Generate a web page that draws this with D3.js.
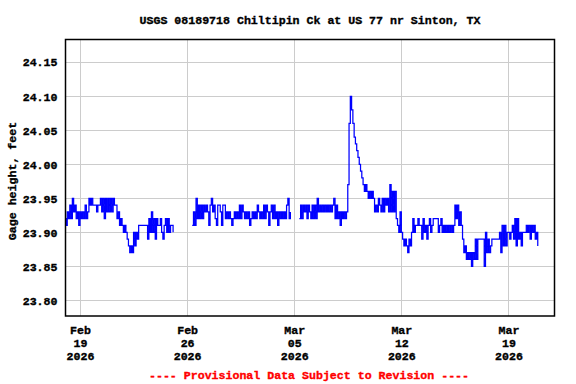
<!DOCTYPE html>
<html>
<head>
<meta charset="utf-8">
<script src="https://cdn.jsdelivr.net/npm/d3@7"></script>
<style>
  html, body { margin: 0; padding: 0; background: #fff; }
  svg { display: block; }
  text { font-family: "Liberation Mono", "DejaVu Sans Mono", monospace; font-weight: bold; font-size: 11.6px; }
</style>
</head>
<body>
<svg id="chart" width="576" height="384"></svg>
<script>
// ---- data ----
const chartTitle = "USGS 08189718 Chiltipin Ck at US 77 nr Sinton, TX";
const yAxisLabel = "Gage height, feet";
const footerText = "---- Provisional Data Subject to Revision ----";
const yTickValues = [23.80, 23.85, 23.90, 23.95, 24.00, 24.05, 24.10, 24.15];
const xTickDates = ["2026-02-19", "2026-02-26", "2026-03-05", "2026-03-12", "2026-03-19"];
const seriesStart = "2026-02-18T00:00:00"; // first reading
const stepHours = 2;                         // readings every 2 hours
// gage height, feet (null = no data)
const gageHeightFt = [
  // Feb 18
  23.92, 23.91, 23.93, 23.92, 23.94, 23.92, 23.95, 23.93, 23.94, 23.92, 23.93, 23.91,
  // Feb 19
  23.93, 23.92, 23.93, 23.92, 23.94, 23.92, 23.93, 23.95, 23.94, 23.95, 23.94, 23.94,
  // Feb 20
  23.94, 23.93, 23.94, 23.94, 23.95, 23.93, 23.95, 23.92, 23.95, 23.93, 23.95, 23.93,
  // Feb 21
  23.95, 23.93, 23.95, 23.94, 23.94, 23.92, 23.93, 23.91, 23.92, 23.91, 23.90, 23.91,
  // Feb 22
  23.90, 23.89, 23.88, 23.87, 23.88, 23.87, 23.90, 23.88, 23.90, 23.89, 23.91, 23.91,
  // Feb 23
  23.91, 23.91, 23.91, 23.91, 23.91, 23.89, 23.92, 23.90, 23.93, 23.90, 23.92, 23.89,
  // Feb 24
  23.92, 23.91, 23.91, 23.92, 23.90, 23.89, 23.91, 23.92, 23.90, 23.92, 23.90, 23.91,
  // Feb 25
  23.91, 23.90, null, null, null, null, null, null, null, null, null, null,
  // Feb 26
  null, null, null, null, 23.91, 23.93, 23.91, 23.95, 23.92, 23.94, 23.92, 23.94,
  // Feb 27
  23.92, 23.94, 23.93, 23.94, 23.93, 23.91, 23.94, 23.95, 23.93, 23.94, 23.92, 23.91,
  // Feb 28
  23.94, 23.94, 23.93, 23.91, 23.94, 23.94, 23.92, 23.93, 23.92, 23.93, 23.92, 23.91,
  // Mar 1
  23.92, 23.93, 23.92, 23.93, 23.92, 23.94, 23.92, 23.94, 23.93, 23.92, 23.93, 23.92,
  // Mar 2
  23.93, 23.91, 23.92, 23.93, 23.92, 23.93, 23.92, 23.94, 23.93, 23.92, 23.93, 23.92,
  // Mar 3
  23.94, 23.92, 23.94, 23.93, 23.91, 23.93, 23.94, 23.92, 23.94, 23.92, 23.93, 23.91,
  // Mar 4
  23.93, 23.92, 23.93, 23.92, 23.93, 23.92, 23.94, 23.95, 23.92, 23.93, null, null,
  // Mar 5
  null, null, null, null, 23.92, 23.94, 23.92, 23.94, 23.93, 23.94, 23.92, 23.94,
  // Mar 6
  23.93, 23.92, 23.94, 23.92, 23.94, 23.92, 23.95, 23.93, 23.94, 23.93, 23.94, 23.93,
  // Mar 7
  23.94, 23.93, 23.94, 23.93, 23.94, 23.93, 23.94, 23.95, 23.92, 23.94, 23.92, 23.93,
  // Mar 8
  23.91, 23.93, 23.92, 23.93, 23.92, 23.93, 23.97, 24.06, 24.10, 24.08, 24.06, 24.04,
  // Mar 9
  24.03, 24.02, 24.01, 24.00, 23.99, 23.98, 23.97, 23.96, 23.97, 23.96, 23.95, 23.96,
  // Mar 10
  23.95, 23.96, 23.95, 23.93, 23.94, 23.93, 23.95, 23.94, 23.93, 23.95, 23.93, 23.95,
  // Mar 11
  23.94, 23.95, 23.93, 23.97, 23.93, 23.96, 23.93, 23.96, 23.92, 23.91, 23.90, 23.93,
  // Mar 12
  23.90, 23.89, 23.88, 23.89, 23.88, 23.87, 23.89, 23.88, 23.90, 23.92, 23.90, 23.91,
  // Mar 13
  23.91, 23.92, 23.91, 23.91, 23.89, 23.92, 23.90, 23.91, 23.89, 23.91, 23.92, 23.90,
  // Mar 14
  23.91, 23.92, 23.92, 23.92, 23.92, 23.90, 23.91, 23.92, 23.90, 23.91, 23.90, 23.91,
  // Mar 15
  23.90, 23.91, 23.90, 23.91, 23.90, 23.91, 23.94, 23.92, 23.94, 23.91, 23.93, 23.91,
  // Mar 16
  23.89, 23.87, 23.88, 23.86, 23.87, 23.86, 23.87, 23.85, 23.87, 23.86, 23.89, 23.86,
  // Mar 17
  23.89, 23.89, 23.89, 23.89, 23.89, 23.85, 23.90, 23.87, 23.89, 23.87, 23.88, 23.89,
  // Mar 18
  23.89, 23.89, 23.89, 23.89, 23.89, 23.90, 23.87, 23.91, 23.88, 23.91, 23.88, 23.90,
  // Mar 19
  23.90, 23.89, 23.90, 23.91, 23.89, 23.92, 23.88, 23.92, 23.89, 23.90, 23.88, 23.90,
  // Mar 20
  23.90, 23.90, 23.91, 23.90, 23.91, 23.89, 23.91, 23.90, 23.91, 23.89, 23.90, 23.88
];

// ---- layout ----
const svg = d3.select("#chart");
const plot = { left: 65.5, right: 554.5, top: 39.5, bottom: 316 };

const x = d3.scaleTime()
  .domain([new Date("2026-02-18T01:15:00"), new Date("2026-03-22T00:15:00")])
  .range([plot.left, plot.right]);
const y = d3.scaleLinear()
  .domain([23.7769, 24.1835])
  .range([plot.bottom, plot.top]);

const t0 = new Date(seriesStart).getTime();
const points = gageHeightFt.map((v, i) => ({ t: new Date(t0 + i * stepHours * 3600e3), v }));

// gridlines
const grid = svg.append("g").attr("stroke", "#cccccc").attr("stroke-width", 1);
grid.selectAll("line.h").data(yTickValues).join("line")
  .attr("x1", plot.left).attr("x2", plot.right)
  .attr("y1", d => Math.round(y(d)) + 0.5).attr("y2", d => Math.round(y(d)) + 0.5);
const tickDates = xTickDates.map(s => new Date(s + "T00:00:00"));
grid.selectAll("line.v").data(tickDates).join("line")
  .attr("y1", plot.top).attr("y2", plot.bottom)
  .attr("x1", d => Math.round(x(d)) + 0.5).attr("x2", d => Math.round(x(d)) + 0.5);

// clip
svg.append("clipPath").attr("id", "clip").append("rect")
  .attr("x", plot.left).attr("y", plot.top)
  .attr("width", plot.right - plot.left).attr("height", plot.bottom - plot.top);

// series line
const line = d3.line()
  .defined(d => d.v !== null)
  .x(d => x(d.t)).y(d => y(d.v))
  .curve(d3.curveStepAfter);
svg.append("path")
  .datum(points)
  .attr("clip-path", "url(#clip)")
  .attr("fill", "none")
  .attr("stroke", "#0000ff")
  .attr("stroke-width", 1.25)
  .attr("d", line);

// frame
svg.append("rect")
  .attr("x", plot.left).attr("y", plot.top)
  .attr("width", plot.right - plot.left).attr("height", plot.bottom - plot.top)
  .attr("fill", "none").attr("stroke", "#000").attr("stroke-width", 1.5);

// y axis
const yAxis = d3.axisLeft(y).tickValues(yTickValues).tickSize(0).tickPadding(8)
  .tickFormat(d3.format(".2f"));
const gy = svg.append("g").attr("transform", `translate(${plot.left},0)`).call(yAxis);
gy.select(".domain").remove();
gy.selectAll("text").attr("fill", "#000").attr("font-size", null).attr("font-family", null)
  .attr("stroke", "#000").attr("stroke-width", 0.35);

// x axis (three-line labels)
const xAxis = d3.axisBottom(x).tickValues(tickDates).tickSize(0).tickFormat("");
const gx = svg.append("g").attr("transform", `translate(0,${plot.bottom})`).call(xAxis);
gx.select(".domain").remove();
const fmtMon = d3.timeFormat("%b"), fmtDay = d3.timeFormat("%d"), fmtYr = d3.timeFormat("%Y");
gx.selectAll(".tick").each(function(d) {
  const t = d3.select(this).append("text").attr("fill", "#000").attr("text-anchor", "middle")
    .attr("stroke", "#000").attr("stroke-width", 0.35);
  t.append("tspan").attr("x", 0).attr("y", 18).text(fmtMon(d));
  t.append("tspan").attr("x", 0).attr("y", 31).text(fmtDay(d));
  t.append("tspan").attr("x", 0).attr("y", 44).text(fmtYr(d));
});

// title
svg.append("text").attr("x", 310).attr("y", 24).attr("text-anchor", "middle")
  .attr("fill", "#000").attr("stroke", "#000").attr("stroke-width", 0.35).text(chartTitle);

// y label
svg.append("text").attr("transform", "translate(15.5,181) rotate(-90)")
  .attr("text-anchor", "middle").attr("fill", "#000")
  .attr("stroke", "#000").attr("stroke-width", 0.35).text(yAxisLabel);

// footer
svg.append("text").attr("x", 309).attr("y", 378.5).attr("text-anchor", "middle")
  .attr("fill", "#ff0000").attr("stroke", "#ff0000").attr("stroke-width", 0.35).text(footerText);
</script>
</body>
</html>
